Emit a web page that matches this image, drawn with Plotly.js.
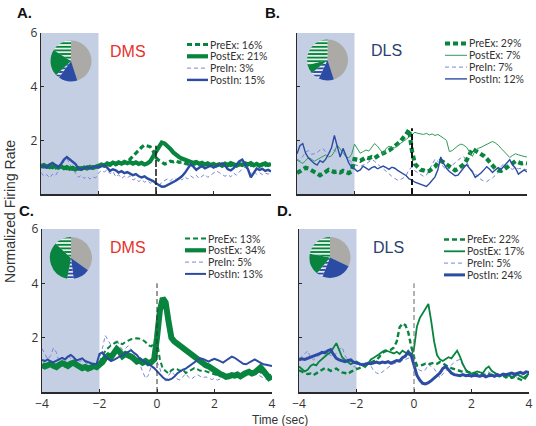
<!DOCTYPE html>
<html>
<head>
<meta charset="utf-8">
<script src="https://cdn.plot.ly/plotly-3.0.1.min.js"></script>
<style>
  html, body { margin: 0; padding: 0; background: #fff; }
  #chart { width: 536px; height: 426px; }
</style>
</head>
<body>
<div id="chart"></div>
<script>
// Peri-event firing rates (normalized) for DMS and DLS neuron classes.
const time = [
  -4.0,-3.9,-3.8,-3.7,-3.6,-3.5,-3.4,-3.3,-3.2,-3.1,
  -3.0,-2.9,-2.8,-2.7,-2.6,-2.5,-2.4,-2.3,-2.2,-2.1,
  -2.0,-1.9,-1.8,-1.7,-1.6,-1.5,-1.4,-1.3,-1.2,-1.1,
  -1.0,-0.9,-0.8,-0.7,-0.6,-0.5,-0.4,-0.3,-0.2,-0.1,
   0.0, 0.1, 0.2, 0.3, 0.4, 0.5, 0.6, 0.7, 0.8, 0.9,
   1.0, 1.1, 1.2, 1.3, 1.4, 1.5, 1.6, 1.7, 1.8, 1.9,
   2.0, 2.1, 2.2, 2.3, 2.4, 2.5, 2.6, 2.7, 2.8, 2.9,
   3.0, 3.1, 3.2, 3.3, 3.4, 3.5, 3.6, 3.7, 3.8, 3.9,
   4.0
];

const classNames = ['PreEx', 'PostEx', 'PreIn', 'PostIn'];

// Percent of neurons in each class (same order as classNames)
const pctA = [16, 21, 3, 15];
const pctB = [29, 7, 7, 12];
const pctC = [13, 34, 5, 13];
const pctD = [22, 17, 5, 24];

// ---- Panel A (DMS) ----
const aPreEx = [
  1.02,1.00,1.05,0.98,1.03,0.97,1.01,0.95,0.99,0.94,
  0.97,0.92,0.96,0.93,0.98,0.94,1.00,0.97,1.02,1.00,
  1.03,1.08,1.04,1.10,1.07,1.12,1.09,1.15,1.11,1.17,
  1.20,1.30,1.42,1.52,1.62,1.74,1.82,1.80,1.76,1.60,
  1.35,1.25,1.18,1.12,1.15,1.22,1.20,1.24,1.18,1.20,
  1.15,1.12,1.16,1.10,1.14,1.09,1.12,1.08,1.11,1.06,
  1.09,1.05,1.10,1.04,1.08,1.12,1.06,1.10,1.05,1.09,
  1.13,1.08,1.12,1.06,1.10,1.04,1.08,1.12,1.06,1.10,
  1.08
];
const aPostEx = [
  1.05,1.08,1.02,1.06,1.00,1.04,0.98,1.03,0.96,1.00,
  0.94,0.98,0.92,0.97,0.93,0.99,0.95,1.01,0.97,1.03,
  1.05,1.10,1.06,1.14,1.10,1.17,1.12,1.18,1.13,1.20,
  1.15,1.19,1.13,1.18,1.12,1.16,1.10,1.14,1.22,1.40,
  1.58,1.78,1.92,1.88,1.80,1.68,1.55,1.45,1.38,1.32,
  1.28,1.24,1.20,1.16,1.19,1.13,1.16,1.10,1.14,1.08,
  1.12,1.07,1.11,1.06,1.13,1.08,1.15,1.10,1.06,1.12,
  1.08,1.14,1.10,1.15,1.07,1.12,1.05,1.10,1.14,1.08,
  1.12
];
const aPreIn = [
  0.80,0.66,0.72,0.60,0.74,0.68,0.86,1.02,1.24,1.34,
  1.10,0.92,0.78,0.62,0.70,0.58,0.66,0.56,0.64,0.60,
  0.78,0.88,0.82,0.90,0.76,0.84,0.64,0.72,0.58,0.66,
  0.60,0.68,0.52,0.58,0.46,0.54,0.44,0.50,0.40,0.46,
  0.38,0.28,0.44,0.50,0.56,0.48,0.60,0.54,0.62,0.52,
  0.64,0.56,0.68,0.60,0.70,0.58,0.66,0.74,0.62,0.70,
  0.78,0.86,0.80,0.74,0.66,0.72,0.64,0.78,0.70,0.82,
  0.94,1.00,0.88,0.76,0.84,0.74,0.80,0.72,0.78,0.74,
  0.80
];
const aPostIn = [
  1.02,1.06,0.98,1.10,1.16,1.08,1.00,1.12,1.28,1.38,
  1.30,1.20,1.12,0.94,0.92,0.96,1.02,0.95,1.00,1.03,
  0.98,1.04,1.08,0.98,0.86,0.92,0.88,0.80,0.85,0.78,
  0.82,0.76,0.70,0.74,0.66,0.62,0.66,0.58,0.54,0.48,
  0.40,0.32,0.27,0.28,0.33,0.38,0.42,0.50,0.58,0.66,
  0.78,0.92,1.10,1.02,0.90,0.98,1.04,0.96,1.02,1.06,
  0.98,1.03,1.10,1.14,1.06,0.92,0.88,0.96,1.10,1.22,
  1.28,1.12,0.92,0.62,0.78,0.95,0.90,0.94,0.86,0.90,
  0.84
];

// ---- Panel B (DLS) ----
const bPreEx = [
  0.78,0.86,0.92,0.98,0.95,0.88,0.82,0.74,0.70,0.76,
  0.84,0.90,0.86,0.82,0.84,0.80,0.86,0.82,0.78,0.84,
  1.30,1.28,1.24,1.30,1.36,1.33,1.38,1.34,1.42,1.48,
  1.52,1.56,1.62,1.70,1.78,1.86,1.96,2.10,2.22,2.40,
  1.60,1.12,0.98,0.90,0.88,0.84,0.86,0.92,1.02,1.16,
  1.24,1.18,1.10,1.02,0.94,0.88,0.94,1.02,1.10,1.26,
  1.44,1.68,1.62,1.56,1.50,1.42,1.32,1.18,1.04,0.94,
  0.88,0.86,0.92,1.00,1.08,1.16,1.22,1.18,1.14,1.16,
  1.14
];
const bPostEx = [
  1.26,1.20,1.14,1.24,1.36,1.30,1.22,1.28,1.34,1.40,
  1.46,1.38,1.42,1.58,1.82,1.68,1.52,1.40,1.34,1.48,
  1.86,1.70,1.52,1.58,1.64,1.60,1.76,1.88,1.78,1.66,
  1.50,1.70,1.78,1.74,1.72,1.82,1.88,1.96,2.04,2.12,
  2.20,2.30,2.26,2.24,2.22,2.26,2.20,2.24,2.18,2.22,
  2.16,2.08,2.00,1.58,1.62,1.72,1.80,1.86,1.82,1.74,
  1.58,1.40,1.62,1.70,1.74,1.80,1.86,1.92,1.96,1.90,
  1.82,1.70,1.58,1.46,1.36,1.44,1.50,1.46,1.42,1.40,
  1.38
];
const bPreIn = [
  1.30,1.24,1.40,1.56,1.62,1.48,1.50,1.54,1.64,1.70,
  1.56,1.50,1.62,1.64,1.54,1.46,1.52,1.40,1.26,1.18,
  1.10,1.06,1.02,1.08,1.12,1.20,1.28,1.22,1.10,1.02,
  0.94,0.84,0.74,0.66,0.58,0.52,0.54,0.60,0.70,0.92,
  1.00,0.86,0.80,0.72,0.66,0.70,0.90,1.12,1.30,1.22,
  1.10,1.00,0.90,0.98,1.08,1.16,1.26,1.34,1.40,1.20,
  0.98,0.86,0.76,0.64,0.54,0.48,0.46,0.54,0.60,0.70,
  0.80,1.02,1.14,1.00,0.96,0.92,0.98,0.94,0.96,0.92,
  0.90
];
const bPostIn = [
  1.50,1.80,1.88,1.52,1.34,1.22,1.14,1.08,1.24,1.18,
  1.30,1.50,1.72,2.18,1.78,1.38,1.70,1.40,1.16,1.00,
  0.94,0.84,0.90,1.04,0.96,0.90,0.98,1.02,0.94,1.00,
  1.04,0.98,0.92,1.00,0.96,0.88,0.82,0.76,0.68,0.56,
  0.52,0.44,0.40,0.34,0.30,0.28,0.38,0.50,0.64,0.90,
  1.38,1.14,0.96,0.84,0.76,0.68,0.70,0.86,0.98,1.10,
  0.96,0.82,0.62,0.70,0.78,0.90,1.02,0.92,0.80,0.90,
  0.98,0.92,1.04,1.16,1.28,1.08,0.96,0.74,0.82,0.90,
  0.82
];

// ---- Panel C (DMS) ----
const cPreEx = [
  0.96,1.00,1.04,0.98,0.92,0.96,1.02,0.98,0.94,1.00,
  1.06,1.00,0.96,0.90,0.94,0.88,0.92,0.96,1.00,0.98,
  1.10,1.30,1.52,1.62,1.72,1.78,1.84,1.80,1.76,1.84,
  1.90,1.94,1.96,1.98,1.96,1.92,1.84,1.72,1.68,1.80,
  1.86,1.20,0.86,0.76,0.68,0.80,0.86,0.84,0.78,0.82,
  0.70,0.76,0.82,0.88,0.84,0.78,0.80,0.76,0.72,0.70,
  0.66,0.62,0.58,0.60,0.56,0.60,0.64,0.58,0.62,0.60,
  0.64,0.68,0.66,0.70,0.74,0.78,0.72,0.66,0.58,0.54,
  0.56
];
const cPostEx = [
  1.00,0.94,0.98,1.04,0.96,0.92,1.00,1.06,1.02,0.96,
  1.04,1.08,1.00,0.94,0.88,0.92,0.86,0.90,0.96,0.92,
  1.00,1.10,1.26,1.34,1.28,1.46,1.58,1.48,1.32,1.40,
  1.36,1.30,1.22,1.12,1.16,1.08,1.14,1.06,1.10,1.20,
  2.00,3.00,3.45,3.30,2.60,2.00,1.86,1.78,1.66,1.60,
  1.50,1.42,1.34,1.26,1.18,1.12,1.04,0.98,0.94,0.86,
  0.76,0.70,0.66,0.62,0.56,0.58,0.62,0.60,0.64,0.58,
  0.66,0.70,0.74,0.68,0.72,0.84,0.90,0.78,0.62,0.52,
  0.58
];
const cPreIn = [
  1.60,1.40,1.20,1.34,1.62,1.46,1.10,1.02,1.22,1.36,
  1.24,1.10,1.04,1.12,1.16,1.08,1.02,0.98,1.06,1.12,
  1.24,1.60,2.08,1.90,1.72,1.80,1.94,1.70,1.56,1.60,
  1.70,1.56,1.36,1.20,1.02,0.72,0.50,0.62,0.92,1.30,
  1.12,0.86,0.52,0.40,0.60,0.76,0.64,0.48,0.44,0.58,
  0.68,0.54,0.48,0.56,0.64,0.58,0.52,0.56,0.50,0.46,
  0.50,0.44,0.48,0.54,0.60,0.66,0.62,0.70,0.74,0.68,
  0.76,0.80,0.72,0.66,0.70,0.64,0.58,0.52,0.46,0.44,
  0.50
];
const cPostIn = [
  1.18,1.14,1.20,1.12,1.10,1.16,1.22,1.26,1.20,1.30,
  1.36,1.28,1.16,1.20,1.24,1.14,1.10,1.06,1.02,1.04,
  1.40,1.46,1.30,1.22,1.14,1.18,1.24,1.30,1.36,1.44,
  1.50,1.54,1.44,1.36,1.22,1.16,1.10,1.04,0.96,0.88,
  0.76,0.64,0.54,0.46,0.44,0.48,0.56,0.68,0.76,0.82,
  0.86,0.94,1.00,1.08,1.16,1.24,1.22,1.16,1.12,1.18,
  1.22,1.18,1.12,1.08,1.16,1.24,1.30,1.26,1.18,1.10,
  1.04,1.02,1.08,1.16,1.20,1.14,1.08,1.02,1.00,0.98,
  0.96
];

// ---- Panel D (DLS) ----
const dPreEx = [
  0.80,0.74,0.70,0.66,0.68,0.62,0.68,0.76,0.82,0.88,
  0.84,0.78,0.82,0.86,0.78,0.72,0.70,0.66,0.74,0.80,
  0.84,0.88,0.92,0.98,1.04,1.08,1.14,1.18,1.30,1.44,
  1.50,1.54,1.56,1.64,1.86,2.38,2.52,2.46,2.20,1.70,
  1.28,0.98,0.96,1.00,1.04,1.02,1.06,1.08,1.04,1.10,
  1.06,0.98,0.92,0.88,0.84,0.80,0.78,0.74,0.76,0.72,
  0.70,0.68,0.66,0.70,0.64,0.62,0.66,0.60,0.58,0.62,
  0.56,0.60,0.54,0.58,0.52,0.56,0.50,0.46,0.42,0.56,
  0.70
];
const dPostEx = [
  0.94,0.84,0.76,0.82,0.96,1.02,0.98,1.12,1.22,1.32,
  1.40,1.46,1.62,1.80,1.54,1.28,1.18,1.10,1.02,1.08,
  1.12,1.06,0.98,0.92,1.04,1.20,1.26,1.32,1.40,1.48,
  1.54,1.50,1.46,1.42,1.48,1.40,1.52,1.46,1.40,1.32,
  1.60,2.40,2.72,2.90,3.10,3.24,2.60,1.86,1.36,1.20,
  1.14,1.20,1.28,1.24,1.38,1.52,1.30,1.02,0.82,0.72,
  0.68,0.72,0.76,0.72,0.70,0.86,0.94,0.78,0.70,0.64,
  0.62,0.66,0.58,0.62,0.56,0.60,0.64,0.58,0.52,0.60,
  0.68
];
const dPreIn = [
  1.24,1.30,1.40,1.52,1.28,1.18,1.26,1.34,1.44,1.52,
  1.40,1.34,1.30,1.44,1.56,1.66,1.34,1.16,1.02,0.94,
  0.90,0.98,1.06,1.10,1.04,0.96,0.78,0.70,0.66,0.74,
  0.84,0.92,0.98,1.04,1.08,1.12,1.16,1.20,1.24,1.28,
  1.22,0.88,0.80,0.76,0.82,1.02,0.94,0.86,0.70,0.52,
  0.66,0.78,0.88,1.00,1.10,1.16,1.20,0.98,0.84,0.72,
  0.66,0.60,0.58,0.54,0.62,0.70,0.74,0.66,0.60,0.58,
  0.62,0.66,0.60,0.56,0.62,0.58,0.54,0.60,0.64,0.58,
  0.64
];
const dPostIn = [
  1.18,1.22,1.20,1.24,1.26,1.30,1.34,1.40,1.46,1.44,
  1.52,1.56,1.38,1.24,1.18,1.14,1.12,1.16,1.18,1.10,
  1.06,1.04,1.00,1.02,1.06,1.04,1.08,1.10,1.06,1.10,
  1.08,1.12,1.06,1.10,1.16,1.14,1.26,1.32,1.48,1.36,
  0.96,0.62,0.44,0.32,0.30,0.34,0.42,0.50,0.60,0.70,
  0.86,0.94,0.80,0.70,0.64,0.62,0.60,0.64,0.60,0.62,
  0.58,0.62,0.60,0.58,0.62,0.56,0.60,0.62,0.58,0.64,
  0.60,0.66,0.64,0.68,0.70,0.66,0.70,0.72,0.68,0.74,
  0.72
];

// ---------------- styling ----------------
const W = 536, H = 426;
const GREEN = 'rgb(8,132,62)';
const GREEN_LIGHT = 'rgb(50,155,90)';
const BLUE = 'rgb(44,76,164)';
const LAV = 'rgb(122,134,214)';
const GRAY = 'rgb(172,170,167)';
const SHADE = 'rgb(197,207,228)';
const INK = '#2a2a2a';

const px = x => x / W;
const py = y => 1 - y / H;

// per-panel line styles, in classNames order
const lineStyles = {
  A: [
    { color: GREEN, width: 3.2, dash: '5px,3px' },
    { color: GREEN, width: 4.2, dash: 'solid' },
    { color: LAV,   width: 1,   dash: '4px,3px' },
    { color: BLUE,  width: 2.4, dash: 'solid' }
  ],
  B: [
    { color: GREEN, width: 4.2, dash: '5px,3px' },
    { color: GREEN_LIGHT, width: 1, dash: 'solid' },
    { color: LAV,   width: 1,   dash: '4px,3px' },
    { color: BLUE,  width: 1.4, dash: 'solid' }
  ],
  C: [
    { color: GREEN, width: 2, dash: '5px,3px' },
    { color: GREEN, width: 6, dash: 'solid' },
    { color: LAV,   width: 1, dash: '4px,3px' },
    { color: BLUE,  width: 2, dash: 'solid' }
  ],
  D: [
    { color: GREEN, width: 2.4, dash: '5px,3px' },
    { color: GREEN, width: 1.8, dash: 'solid' },
    { color: LAV,   width: 1,   dash: '4px,3px' },
    { color: BLUE,  width: 3,   dash: 'solid' }
  ]
};

const panels = [
  { key: 'A', ax: '', region: 'DMS', regionColor: 'rgb(232,48,42)', pct: pctA,
    series: [aPreEx, aPostEx, aPreIn, aPostIn],
    box: [41, 271, 33, 194], xLabels: false, yLabels: true,
    pie: [71, 61, 20.5], legend: [187, 208, 44.5], letter: [15, 13], regionAt: [128, 52],
    marker0: { top: 1.8, width: 1.6, dash: '7px,2px', color: '#222' } },
  { key: 'B', ax: '2', region: 'DLS', regionColor: 'rgb(40,66,112)', pct: pctB,
    series: [bPreEx, bPostEx, bPreIn, bPostIn],
    box: [297, 527, 33, 194], xLabels: false, yLabels: false,
    pie: [327.5, 60, 20.5], legend: [445, 467, 43.5], letter: [263, 13], regionAt: [386, 51],
    marker0: { top: 2.45, width: 2, dash: '6px,3px', color: '#111' } },
  { key: 'C', ax: '3', region: 'DMS', regionColor: 'rgb(232,48,42)', pct: pctC,
    series: [cPreEx, cPostEx, cPreIn, cPostIn],
    box: [42, 272, 229, 392], xLabels: true, yLabels: true,
    pie: [71, 258, 21], legend: [185, 206, 238.5], letter: [17, 210], regionAt: [128, 247],
    marker0: { top: 4.0, width: 1, dash: '5px,3px', color: '#333' } },
  { key: 'D', ax: '4', region: 'DLS', regionColor: 'rgb(40,66,112)', pct: pctD,
    series: [dPreEx, dPostEx, dPreIn, dPostIn],
    box: [299, 529, 229, 392], xLabels: true, yLabels: false,
    pie: [330, 257.5, 20.5], legend: [444, 465, 239.5], letter: [275, 210], regionAt: [388, 248],
    marker0: { top: 4.0, width: 1, dash: '5px,3px', color: '#666' } }
];

const tickFont = { family: 'Open Sans, sans-serif', size: 12, color: '#333' };

const traces = [];
const shapes = [];
const annotations = [];
const layout = {
  width: W, height: H,
  margin: { l: 0, r: 0, t: 0, b: 0 },
  paper_bgcolor: '#fff', plot_bgcolor: 'rgba(0,0,0,0)',
  showlegend: false,
  shapes, annotations
};

// draw order inside each panel: PreIn, PreEx, PostEx, PostIn
const drawOrder = [2, 0, 1, 3];

panels.forEach(p => {
  const [x0, x1, yTop, yBot] = p.box;
  const xName = 'x' + p.ax, yName = 'y' + p.ax;
  layout['xaxis' + p.ax] = {
    domain: [px(x0), px(x1)], range: [-4, 4], anchor: yName,
    tickvals: [-4, -2, 0, 2, 4], ticks: 'inside', ticklen: 3, tickwidth: 1, tickcolor: INK,
    showticklabels: p.xLabels, tickfont: tickFont,
    showline: true, linecolor: INK, linewidth: 1.5,
    showgrid: false, zeroline: false, fixedrange: true
  };
  layout['yaxis' + p.ax] = {
    domain: [py(yBot), py(yTop)], range: [0, 6], anchor: xName,
    tickvals: [2, 4, 6], ticks: 'inside', ticklen: 3, tickwidth: 1, tickcolor: INK,
    showticklabels: p.yLabels, tickfont: tickFont,
    showline: true, linecolor: INK, linewidth: 1.2,
    showgrid: false, zeroline: false, fixedrange: true
  };

  // baseline window shading
  shapes.push({ type: 'rect', xref: xName, yref: yName, x0: -4, x1: -2, y0: 0, y1: 6,
    fillcolor: SHADE, line: { width: 0 }, layer: 'below' });
  // event marker at t = 0
  shapes.push({ type: 'line', xref: xName, yref: yName, x0: 0, x1: 0, y0: 0, y1: p.marker0.top,
    line: { color: p.marker0.color, width: p.marker0.width, dash: p.marker0.dash }, layer: 'above' });

  const st = lineStyles[p.key];
  drawOrder.forEach(i => {
    traces.push({
      type: 'scatter', mode: 'lines', x: time, y: p.series[i],
      xaxis: xName, yaxis: yName, name: classNames[i],
      line: { color: st[i].color, width: st[i].width, dash: st[i].dash },
      hoverinfo: 'skip', cliponaxis: true
    });
  });

  // custom legend: sample line + label
  const [lx0, lx1, ly0] = p.legend;
  classNames.forEach((nm, i) => {
    const yy = ly0 + i * 11.8;
    shapes.push({ type: 'line', xref: 'paper', yref: 'paper',
      x0: px(lx0), x1: px(lx1), y0: py(yy), y1: py(yy),
      line: { color: st[i].color, width: Math.min(st[i].width, 4.2), dash: st[i].dash } });
    annotations.push({ xref: 'paper', yref: 'paper', x: px(lx1 + 1), y: py(yy),
      xanchor: 'left', yanchor: 'middle', showarrow: false, borderpad: 0,
      text: nm + ': ' + p.pct[i] + '%',
      font: { family: 'Lato, Open Sans, sans-serif', size: 10.5, color: '#333' } });
  });

  // region name
  annotations.push({ xref: 'paper', yref: 'paper', x: px(p.regionAt[0]), y: py(p.regionAt[1]),
    xanchor: 'center', yanchor: 'middle', showarrow: false, text: p.region,
    font: { family: 'Liberation Sans, Arial, sans-serif', size: 16, color: p.regionColor } });

  // panel letter
  annotations.push({ xref: 'paper', yref: 'paper', x: px(p.letter[0]), y: py(p.letter[1]),
    xanchor: 'left', yanchor: 'middle', showarrow: false, text: '<b>' + p.key + '.</b>',
    font: { family: 'Liberation Sans, Arial, sans-serif', size: 15, color: '#111' } });

  // class proportions pie: unresponsive, PostIn, PreIn, PostEx, PreEx (clockwise from 12 o'clock)
  const rest = 100 - p.pct.reduce((s, v) => s + v, 0);
  const [cx, cy, r] = p.pie;
  traces.push({
    type: 'pie', sort: false, direction: 'clockwise', rotation: 0,
    values: [rest, p.pct[3], p.pct[2], p.pct[1], p.pct[0]],
    labels: ['Unresponsive', 'PostIn', 'PreIn', 'PostEx', 'PreEx'],
    domain: { x: [px(cx - r), px(cx + r)], y: [py(cy + r), py(cy - r)] },
    marker: {
      colors: [GRAY, BLUE, BLUE, GREEN, GREEN],
      line: { width: 0 },
      pattern: {
        shape: ['', '', '-', '', '-'],
        fgcolor: ['#fff', '#fff', '#fff', '#fff', '#fff'],
        bgcolor: [GRAY, BLUE, BLUE, GREEN, GREEN],
        size: 3.6, solidity: 0.45
      }
    },
    textinfo: 'none', hoverinfo: 'skip', showlegend: false
  });
});

// shared axis titles
annotations.push({ xref: 'paper', yref: 'paper', x: px(10), y: py(212),
  xanchor: 'center', yanchor: 'middle', showarrow: false, textangle: -90,
  text: 'Normalized Firing Rate',
  font: { family: 'Liberation Sans, Arial, sans-serif', size: 14, color: '#333' } });
annotations.push({ xref: 'paper', yref: 'paper', x: px(280), y: py(412),
  xanchor: 'center', yanchor: 'top', showarrow: false, borderpad: 0,
  text: 'Time (sec)',
  font: { family: 'Liberation Sans, Arial, sans-serif', size: 12, color: '#333' } });

Plotly.newPlot('chart', traces, layout, { staticPlot: true, displayModeBar: false });
</script>
</body>
</html>
